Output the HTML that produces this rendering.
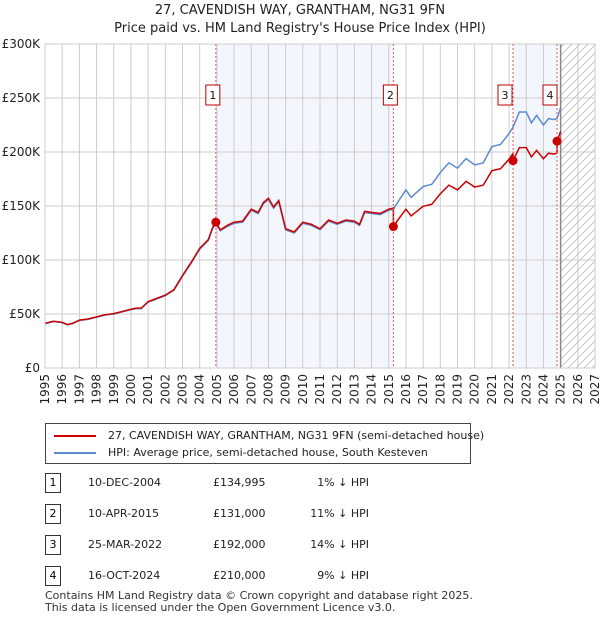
<!DOCTYPE html>
<html><head><meta charset="utf-8"><style>
body{margin:0;background:#fff;font-family:"DejaVu Sans","Liberation Sans",sans-serif;}
#wrap{position:relative;width:600px;height:620px;overflow:hidden;}
.t{position:absolute;font-size:12px;color:#222;white-space:nowrap;}
svg text{font-family:"DejaVu Sans","Liberation Sans",sans-serif;}
</style></head><body><div id="wrap">
<div class="t" style="left:0;width:600px;text-align:center;top:3px;font-size:13px">27, CAVENDISH WAY, GRANTHAM, NG31 9FN</div>
<div class="t" style="left:0;width:600px;text-align:center;top:21px;font-size:13px">Price paid vs. HM Land Registry's House Price Index (HPI)</div>
<svg id="c" width="600" height="420" style="position:absolute;left:0;top:0"></svg>
<div style="position:absolute;left:45px;top:423px;width:424px;height:39px;border:1px solid #444">
 <div style="position:absolute;left:8px;top:11px;width:42px;height:2px;background:#c00"></div>
 <div class="t" style="left:62px;top:5px;font-size:11px">27, CAVENDISH WAY, GRANTHAM, NG31 9FN (semi-detached house)</div>
 <div style="position:absolute;left:8px;top:28px;width:42px;height:2px;background:#5b8bd0"></div>
 <div class="t" style="left:62px;top:22px;font-size:11px">HPI: Average price, semi-detached house, South Kesteven</div>
</div>
<div id="tbl"></div>
<div class="t" style="left:45px;top:589px;font-size:11px;color:#333">Contains HM Land Registry data © Crown copyright and database right 2025.</div>
<div class="t" style="left:45px;top:601px;font-size:11px;color:#333">This data is licensed under the Open Government Licence v3.0.</div>
</div>
<script>
const years=[1995,1995.5,1996,1996.3,1996.6,1997,1997.5,1998,1998.5,1999,1999.5,2000,2000.3,2000.6,2001,2001.5,2002,2002.5,2003,2003.5,2004,2004.5,2004.75,2004.94,2005.2,2005.6,2006,2006.5,2007,2007.4,2007.7,2008,2008.3,2008.6,2009,2009.5,2010,2010.5,2011,2011.5,2012,2012.5,2013,2013.3,2013.6,2014,2014.5,2015,2015.27,2015.5,2016,2016.3,2017,2017.5,2018,2018.5,2019,2019.5,2020,2020.5,2021,2021.5,2022,2022.23,2022.6,2023,2023.3,2023.6,2024,2024.3,2024.6,2024.79,2025];
const hpi=[41,43,42,40,41,44,45,47,49,50,52,54,55,55,61,64,67,72,85,97,110,118,129,134,127,131,134,135,146,143,152,156,148,154,128,125,134,132,128,136,133,136,135,132,144,143,142,146,147,153,165,158,168,170,181,190,185,194,188,190,205,207,217,223,237,237,227,234,225,231,230,231,241];
const sales=[[2004.94,134995],[2015.27,131000],[2022.23,192000],[2024.79,210000]];
const yTicks=[0,50,100,150,200,250,300];
const x0=45,x1=595,y0=368,y1=44;
const X=y=>x0+(y-1995)/32*(x1-x0);
const Y=v=>y0-v/300000*(y0-y1);
const NS="http://www.w3.org/2000/svg";
const svg=document.getElementById('c');
function mk(t,a,p){const e=document.createElementNS(NS,t);for(const k in a)e.setAttribute(k,a[k]);(p||svg).appendChild(e);return e;}
const interp=t=>{for(let i=0;i<years.length-1;i++)if(t<=years[i+1]){const f=(t-years[i])/(years[i+1]-years[i]);return hpi[i]+f*(hpi[i+1]-hpi[i]);}return hpi[hpi.length-1];};
const s1=mk('rect',{x:X(sales[0][0]),y:y1,width:X(sales[1][0])-X(sales[0][0]),height:y0-y1,fill:'#eef3fc',opacity:0.7});

const s2=mk('rect',{x:X(sales[2][0]),y:y1,width:X(sales[3][0])-X(sales[2][0]),height:y0-y1,fill:'#eef3fc',opacity:0.7});

const defs=mk('defs',{});
const pat=mk('pattern',{id:'h',width:8,height:8,patternUnits:'userSpaceOnUse'},defs);
mk('path',{d:'M0,8 L8,0 M-2,2 L2,-2 M6,10 L10,6',stroke:'#bbb','stroke-width':0.8},pat);
const hr=mk('rect',{x:X(2025),y:y1,width:x1-X(2025),height:y0-y1,fill:'url(#h)'});

for(let yr=1995;yr<=2027;yr++){mk('line',{x1:X(yr),x2:X(yr),y1:y1,y2:y0,stroke:'#ccc'});
 const t=mk('text',{x:0,y:0,transform:`translate(${X(yr)+4},${y0+6}) rotate(-90)`,'text-anchor':'end','font-size':12,fill:'#222'});t.textContent=yr;
 }
yTicks.forEach(v=>{mk('line',{x1:x0,x2:x1,y1:Y(v*1000),y2:Y(v*1000),stroke:'#ccc'});
 const t=mk('text',{x:40,y:Y(v*1000)+4,'text-anchor':'end','font-size':12,fill:'#222'});t.textContent=v?'£'+v+'K':'£0';
 });
mk('line',{x1:X(2025),x2:X(2025),y1:y1,y2:y0,stroke:'#888','stroke-width':1.5});
const pts=years.map((y,i)=>X(y)+','+Y(hpi[i]*1000)).join(' ');
const hl=mk('polyline',{points:pts,fill:'none',stroke:'#5b8bd0','stroke-width':1.5});

const ratio=t=>{let r=sales[0][1]/(interp(sales[0][0])*1000);for(const s of sales)if(t>=s[0])r=s[1]/(interp(s[0])*1000);return r;};
let rp=[];years.forEach((y,i)=>{sales.forEach(s=>{if(s[0]>(i?years[i-1]:0)&&s[0]<=y){rp.push([s[0],interp(s[0])*1000*ratio(s[0]-0.001)]);rp.push([s[0],s[1]]);}});rp.push([y,hpi[i]*1000*ratio(y)]);});
const pl=mk('polyline',{points:rp.map(p=>X(p[0])+','+Y(p[1])).join(' '),fill:'none',stroke:'#c00','stroke-width':1.5});

mk('rect',{x:x0,y:y1,width:x1-x0,height:y0-y1,fill:'none',stroke:'#ccc'});
sales.forEach((s,i)=>{mk('line',{x1:X(s[0]),x2:X(s[0]),y1:y1,y2:y0,stroke:'#e55','stroke-dasharray':'2,2'});
 const d=mk('circle',{cx:X(s[0]),cy:Y(s[1]),r:4.5,fill:'#c00'});
 
 const g=mk('g',{});
 const cx=i==1?X(s[0])-3:i==2?X(s[0])-8:i==0?X(s[0])-3:X(s[0])-7;
 mk('rect',{x:cx-7,y:85,width:14,height:20,fill:'#fff',stroke:'#b00'},g);
 const t=mk('text',{x:cx,y:99,'text-anchor':'middle','font-size':11,fill:'#111'},g);t.textContent=i+1;});
const rows=[['10-DEC-2004','£134,995','1% ↓ HPI'],['10-APR-2015','£131,000','11% ↓ HPI'],['25-MAR-2022','£192,000','14% ↓ HPI'],['16-OCT-2024','£210,000','9% ↓ HPI']];
const tb=document.getElementById('tbl');
rows.forEach((r,i)=>{const top=[473,504,535,566][i];
 tb.insertAdjacentHTML('beforeend',`<div><div style="position:absolute;left:45px;top:${top}px;width:14px;height:18px;border:1px solid #333;font-size:11px;text-align:center;line-height:18px">${i+1}</div><div class="t" style="left:88px;top:${top+3}px;font-size:11px">${r[0]}</div><div class="t" style="left:213px;top:${top+3}px;font-size:11px">${r[1]}</div><div class="t" style="left:290px;width:79px;text-align:right;top:${top+3}px;font-size:11px">${r[2]}</div></div>`);});
</script></body></html>
